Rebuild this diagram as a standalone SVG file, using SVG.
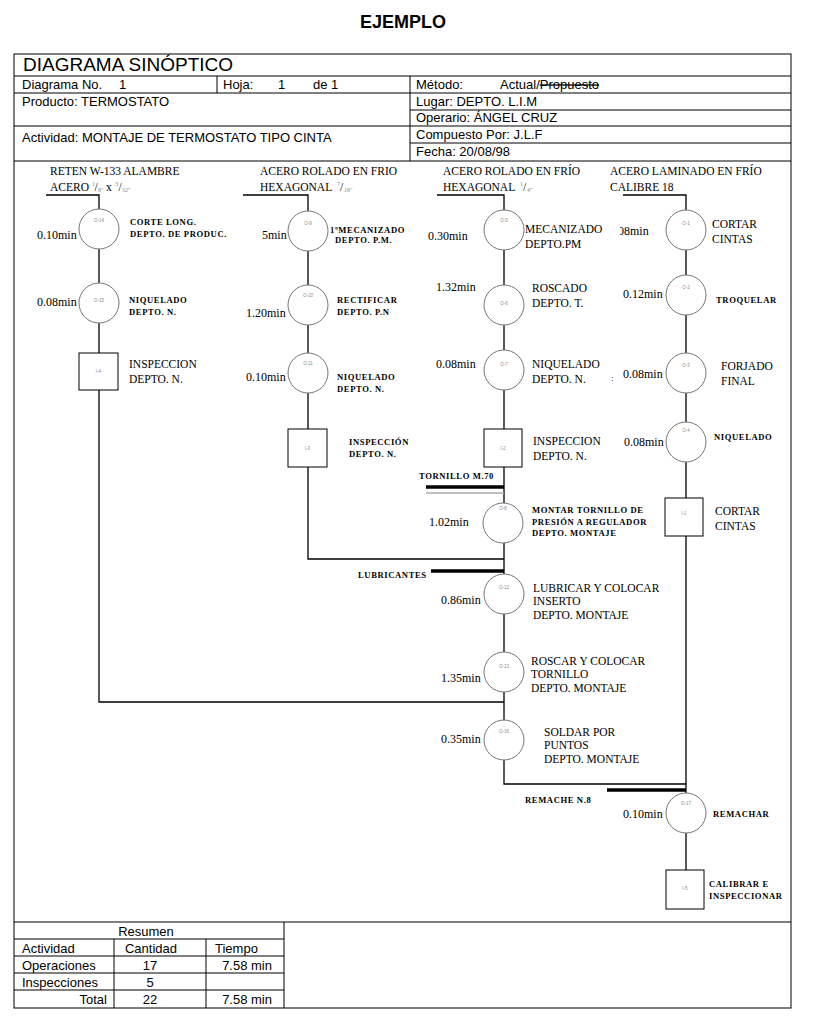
<svg xmlns="http://www.w3.org/2000/svg" width="820" height="1030" viewBox="0 0 820 1030">
<style>
.hd{font-family:"Liberation Sans",Arial,sans-serif;font-size:13px;fill:#000}
.sr{font-family:"Liberation Serif","Times New Roman",serif;font-size:11.5px;fill:#000}
.tm{font-family:"Liberation Serif","Times New Roman",serif;font-size:12px;fill:#000}
.sb{font-family:"Liberation Serif","Times New Roman",serif;font-size:8.6px;font-weight:bold;letter-spacing:0.6px;fill:#000}
.fr{font-family:"Liberation Serif","Times New Roman",serif;font-size:6px;fill:#888}
.cl{font-family:"Liberation Sans",Arial,sans-serif;font-size:4.5px;fill:#888;text-anchor:middle}
.frame{fill:none;stroke:#000;stroke-width:1}
.op{fill:#fff;stroke:#777;stroke-width:1}
.in{fill:#fff;stroke:#000;stroke-width:1}
.ln{fill:none;stroke:#000;stroke-width:1.3}
.bar{stroke:#000;stroke-width:3.5}
</style>
<defs>
<clipPath id="clipO1"><rect x="620" y="220" width="40" height="20"/></clipPath>
</defs>
<rect x="0" y="0" width="820" height="1030" fill="#fff"/>
<g id="header">
<text x="403" y="28" text-anchor="middle" style="font-family:'Liberation Sans',Arial,sans-serif;font-size:18px;font-weight:bold">EJEMPLO</text>
<rect class="frame" x="14" y="54" width="777" height="954"/>
<line class="frame" x1="14" y1="76" x2="791" y2="76"/>
<line class="frame" x1="14" y1="93" x2="791" y2="93"/>
<line class="frame" x1="14" y1="126" x2="791" y2="126"/>
<line class="frame" x1="410" y1="110" x2="791" y2="110"/>
<line class="frame" x1="410" y1="143" x2="791" y2="143"/>
<line class="frame" x1="14" y1="161" x2="791" y2="161"/>
<line class="frame" x1="217" y1="76" x2="217" y2="93"/>
<line class="frame" x1="410" y1="76" x2="410" y2="161"/>
<text class="hd" x="23" y="71" style="font-size:19px">DIAGRAMA SINÓPTICO</text>
<text class="hd" x="22" y="89">Diagrama No.</text>
<text class="hd" x="119" y="89">1</text>
<text class="hd" x="223" y="89">Hoja:</text>
<text class="hd" x="278" y="89">1</text>
<text class="hd" x="313" y="89">de 1</text>
<text class="hd" x="416" y="89">Método:</text>
<text class="hd" x="500" y="89">Actual/<tspan text-decoration="line-through">Propuesto</tspan></text>
<text class="hd" x="22" y="106">Producto: TERMOSTATO</text>
<text class="hd" x="416" y="106">Lugar: DEPTO. L.I.M</text>
<text class="hd" x="416" y="122">Operario: ÁNGEL CRUZ</text>
<text class="hd" x="22" y="142">Actividad: MONTAJE DE TERMOSTATO TIPO CINTA</text>
<text class="hd" x="416" y="139">Compuesto Por: J.L.F</text>
<text class="hd" x="416" y="156">Fecha: 20/08/98</text>
</g>
<g id="materials">
<text class="sr" x="50" y="175">RETEN W-133 ALAMBRE</text>
<text class="sr" x="50" y="191">ACERO</text>
<text class="fr" x="92" y="186">1</text>
<text class="sr" x="94.5" y="191">/</text>
<text class="fr" x="98" y="192">8"</text>
<text class="sr" x="106" y="191">x</text>
<text class="fr" x="115" y="186">3</text>
<text class="sr" x="118.5" y="191">/</text>
<text class="fr" x="122" y="192">32"</text>
<text class="sr" x="260" y="175">ACERO ROLADO EN FRIO</text>
<text class="sr" x="260" y="191">HEXAGONAL</text>
<text class="fr" x="337" y="186">7</text>
<text class="sr" x="340" y="191">/</text>
<text class="fr" x="344" y="192">16"</text>
<text class="sr" x="443" y="175">ACERO ROLADO EN FRÍO</text>
<text class="sr" x="443" y="191">HEXAGONAL</text>
<text class="fr" x="520" y="186">1</text>
<text class="sr" x="523" y="191">/</text>
<text class="fr" x="527" y="192">4"</text>
<text class="sr" x="610" y="175">ACERO LAMINADO EN FRÍO</text>
<text class="sr" x="610" y="191">CALIBRE 18</text>
</g>
<g id="connectors">
<polyline class="ln" points="46,195 99,195 99,702 504,702"/>
<polyline class="ln" points="243,195 308,195 308,559 504,559"/>
<polyline class="ln" points="437,195 504,195 504,784 686,784"/>
<polyline class="ln" points="623,195 686,195 686,870"/>
<line class="bar" x1="426" y1="487" x2="504" y2="487"/>
<line x1="426" y1="493" x2="504" y2="493" stroke="#aaa" stroke-width="1.5"/>
<line class="bar" x1="431" y1="571" x2="504" y2="571"/>
<line class="bar" x1="607" y1="790" x2="686" y2="790"/>
</g>
<g id="O-14"><circle class="op" cx="99" cy="229" r="20"/><text class="cl" x="99" y="222">O-14</text>
<text class="sb" x="130" y="225">CORTE LONG.</text><text class="sb" x="130" y="237">DEPTO. DE PRODUC.</text><text class="tm" x="37" y="239">0.10min</text></g>
<g id="O-15"><circle class="op" cx="99" cy="303" r="20"/><text class="cl" x="99" y="302">O-15</text>
<text class="sb" x="129" y="303">NIQUELADO</text><text class="sb" x="129" y="315">DEPTO. N.</text><text class="tm" x="37" y="306">0.08min</text></g>
<g id="I-4"><rect class="in" x="79" y="353" width="39" height="37"/><text class="cl" x="98.5" y="373">I-4</text>
<text class="sr" x="129" y="368">INSPECCION</text><text class="sr" x="129" y="383">DEPTO. N.</text></g>
<g id="O-9"><circle class="op" cx="308" cy="231" r="20"/><text class="cl" x="308" y="225">O-9</text>
<text class="sb" x="330" y="233">1ºMECANIZADO</text><text class="sb" x="335" y="243">DEPTO. P.M.</text><text class="tm" x="262" y="239">5min</text></g>
<g id="O-10"><circle class="op" cx="308" cy="305" r="20"/><text class="cl" x="308" y="297">O-10</text>
<text class="sb" x="337" y="303">RECTIFICAR</text><text class="sb" x="337" y="315">DEPTO. P.N</text><text class="tm" x="246" y="317">1.20min</text></g>
<g id="O-11"><circle class="op" cx="308" cy="373" r="20"/><text class="cl" x="308" y="365">O-11</text>
<text class="sb" x="337" y="380">NIQUELADO</text><text class="sb" x="337" y="392">DEPTO. N.</text><text class="tm" x="246" y="381">0.10min</text></g>
<g id="I-3"><rect class="in" x="288" y="429" width="39" height="38"/><text class="cl" x="307.5" y="450">I-3</text>
<text class="sb" x="349" y="445">INSPECCIÓN</text><text class="sb" x="349" y="457">DEPTO. N.</text></g>
<g id="O-5"><circle class="op" cx="504" cy="230" r="20"/><text class="cl" x="504" y="222">O-5</text>
<text class="sr" x="525" y="233">MECANIZADO</text><text class="sr" x="525" y="248">DEPTO.PM</text><text class="tm" x="428" y="240">0.30min</text></g>
<g id="O-6"><circle class="op" cx="504" cy="305" r="20"/><text class="cl" x="504" y="305">O-6</text>
<text class="sr" x="532" y="292">ROSCADO</text><text class="sr" x="532" y="307">DEPTO. T.</text><text class="tm" x="436" y="291">1.32min</text></g>
<g id="O-7"><circle class="op" cx="504" cy="370" r="20"/><text class="cl" x="504" y="366">O-7</text>
<text class="sr" x="532" y="368">NIQUELADO</text><text class="sr" x="532" y="383">DEPTO. N.</text><text class="tm" x="436" y="368">0.08min</text></g>
<g id="I-2"><rect class="in" x="484" y="429" width="38" height="38"/><text class="cl" x="503" y="450">I-2</text>
<text class="sr" x="533" y="445">INSPECCION</text><text class="sr" x="533" y="460">DEPTO. N.</text><text class="sb" x="419" y="479">TORNILLO M.70</text></g>
<g id="O-1"><circle class="op" cx="686" cy="230" r="20"/><text class="cl" x="686" y="225">O-1</text>
<text class="sr" x="712" y="228">CORTAR</text><text class="sr" x="712" y="243">CINTAS</text><text class="tm" x="609" y="235" clip-path="url(#clipO1)">0.08min</text></g>
<g id="O-2"><circle class="op" cx="686" cy="295" r="20"/><text class="cl" x="686" y="289">O-2</text>
<text class="sb" x="716" y="303">TROQUELAR</text><text class="tm" x="623" y="298">0.12min</text></g>
<g id="O-3"><circle class="op" cx="686" cy="373" r="20"/><text class="cl" x="686" y="367">O-3</text>
<text class="sr" x="721" y="370">FORJADO</text><text class="sr" x="721" y="385">FINAL</text><text class="tm" x="623" y="378">0.08min</text><text class="tm" x="611" y="381" style="font-size:9px">:</text></g>
<g id="O-4"><circle class="op" cx="686" cy="442" r="20"/><text class="cl" x="686" y="432">O-4</text>
<text class="sb" x="714" y="440">NIQUELADO</text><text class="tm" x="624" y="446">0.08min</text></g>
<g id="I-1"><rect class="in" x="665" y="498" width="38" height="38"/><text class="cl" x="684" y="515">I-1</text>
<text class="sr" x="715" y="515">CORTAR</text><text class="sr" x="715" y="530">CINTAS</text></g>
<g id="O-8"><circle class="op" cx="503" cy="523" r="20"/><text class="cl" x="503" y="510">O-8</text>
<text class="sb" x="532" y="513">MONTAR TORNILLO DE</text><text class="sb" x="532" y="525">PRESIÓN A REGULADOR</text><text class="sb" x="532" y="536">DEPTO. MONTAJE</text><text class="tm" x="429" y="526">1.02min</text></g>
<g id="O-12"><circle class="op" cx="504" cy="594" r="20"/><text class="cl" x="504" y="589">O-12</text>
<text class="sb" x="358" y="578">LUBRICANTES</text>
<text class="sr" x="533" y="592">LUBRICAR Y COLOCAR</text><text class="sr" x="533" y="605">INSERTO</text><text class="sr" x="533" y="619">DEPTO. MONTAJE</text><text class="tm" x="441" y="604">0.86min</text></g>
<g id="O-13"><circle class="op" cx="504" cy="672" r="20"/><text class="cl" x="504" y="668">O-13</text>
<text class="sr" x="531" y="665">ROSCAR Y COLOCAR</text><text class="sr" x="531" y="678">TORNILLO</text><text class="sr" x="531" y="692">DEPTO. MONTAJE</text><text class="tm" x="441" y="682">1.35min</text></g>
<g id="O-16"><circle class="op" cx="504" cy="740" r="20"/><text class="cl" x="504" y="733">O-16</text>
<text class="sr" x="544" y="736">SOLDAR POR</text><text class="sr" x="544" y="749">PUNTOS</text><text class="sr" x="544" y="763">DEPTO. MONTAJE</text><text class="tm" x="441" y="743">0.35min</text></g>
<g id="O-17"><circle class="op" cx="686" cy="813" r="20"/><text class="cl" x="686" y="805">O-17</text>
<text class="sb" x="525" y="803">REMACHE N.8</text>
<text class="sb" x="713" y="817">REMACHAR</text><text class="tm" x="623" y="818">0.10min</text></g>
<g id="I-5"><rect class="in" x="666" y="870" width="38" height="39"/><text class="cl" x="685" y="890">I-5</text>
<text class="sb" x="709" y="887">CALIBRAR E</text><text class="sb" x="709" y="899">INSPECCIONAR</text></g>
<g id="summary">
<line class="frame" x1="14" y1="922" x2="791" y2="922"/>
<line class="frame" x1="284" y1="922" x2="284" y2="1008"/>
<line class="frame" x1="14" y1="939" x2="284" y2="939"/>
<line class="frame" x1="14" y1="956" x2="284" y2="956"/>
<line class="frame" x1="14" y1="973" x2="284" y2="973"/>
<line class="frame" x1="14" y1="990" x2="284" y2="990"/>
<line class="frame" x1="114" y1="939" x2="114" y2="1008"/>
<line class="frame" x1="206" y1="939" x2="206" y2="1008"/>
<text class="hd" x="146" y="936" text-anchor="middle">Resumen</text>
<text class="hd" x="22" y="953">Actividad</text>
<text class="hd" x="151" y="953" text-anchor="middle">Cantidad</text>
<text class="hd" x="215" y="953">Tiempo</text>
<text class="hd" x="22" y="970">Operaciones</text>
<text class="hd" x="150" y="970" text-anchor="middle">17</text>
<text class="hd" x="272" y="970" text-anchor="end">7.58 min</text>
<text class="hd" x="22" y="987">Inspecciones</text>
<text class="hd" x="150" y="987" text-anchor="middle">5</text>
<text class="hd" x="107" y="1004" text-anchor="end">Total</text>
<text class="hd" x="150" y="1004" text-anchor="middle">22</text>
<text class="hd" x="272" y="1004" text-anchor="end">7.58 min</text>
</g>
</svg>
